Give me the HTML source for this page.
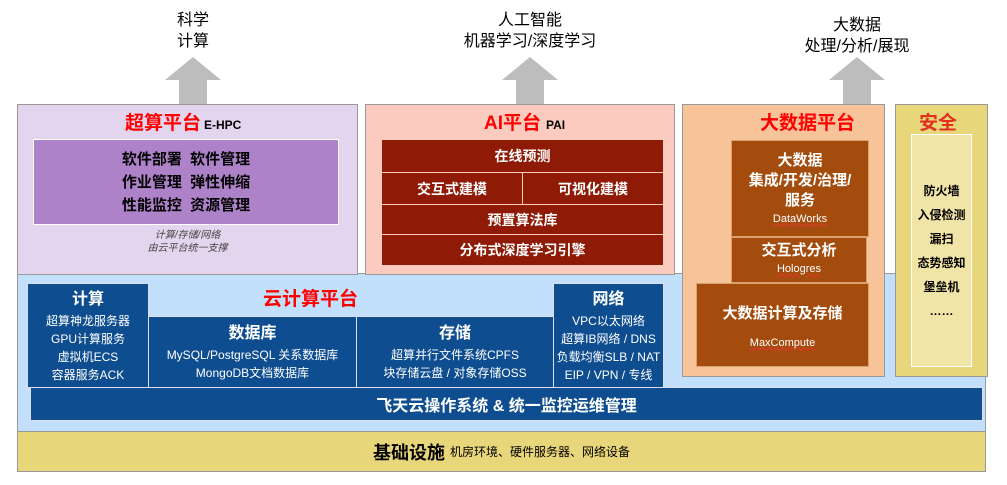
<!DOCTYPE html>
<html><head><meta charset="utf-8"><style>
*{margin:0;padding:0;box-sizing:border-box}
body{width:1007px;height:485px;background:#fff;position:relative;overflow:hidden;font-family:"Liberation Sans","Noto Sans CJK SC",sans-serif}
.a{position:absolute}
.c{display:flex;flex-direction:column;align-items:center;justify-content:center;text-align:center}
.w{color:#fff}
.red{color:#f00;font-weight:bold}
.u{text-decoration:underline wavy #e33;text-decoration-thickness:1px}
</style></head><body>
<!-- top labels -->
<div class="a c" style="left:143px;top:10px;width:100px;font-size:16px;line-height:21px">科学<br>计算</div>
<div class="a c" style="left:430px;top:10px;width:200px;font-size:16px;line-height:21px">人工智能<br>机器学习/深度学习</div>
<div class="a c" style="left:757px;top:15px;width:200px;font-size:16px;line-height:21px">大数据<br>处理/分析/展现</div>
<!-- arrows -->
<svg class="a" style="left:0;top:0" width="1007" height="110">
<g fill="#bdbdbd">
<polygon points="193,57 221,80 207,80 207,104 179,104 179,80 165,80"/>
<polygon points="530,57 558,80 544,80 544,104 516,104 516,80 502,80"/>
<polygon points="857,57 885,80 871,80 871,104 843,104 843,80 829,80"/>
</g></svg>
<!-- cloud bg -->
<div class="a" style="left:17px;top:273px;width:969px;height:160px;background:#c2e0fb;border:1px solid #999"></div>
<!-- base -->
<div class="a" style="left:17px;top:431px;width:969px;height:41px;background:#e8d67a;border:1px solid #999;display:flex;align-items:center;justify-content:center;font-size:18px;font-weight:bold">基础设施<span style="font-size:12px;font-weight:normal;margin-left:5px">机房环境、硬件服务器、网络设备</span></div>
<!-- HPC -->
<div class="a" style="left:17px;top:104px;width:341px;height:171px;background:#e3d5ee;border:1px solid #999"></div>
<div class="a red" style="left:125px;top:108px;font-size:19px">超算平台<span style="font-size:12px;color:#000;margin-left:3px">E-HPC</span></div>
<div class="a c" style="left:33px;top:139px;width:306px;height:86px;background:#ad82c8;border:1px solid #fff;font-size:15px;line-height:23px;font-weight:bold">软件部署&nbsp;&nbsp;软件管理<br>作业管理&nbsp;&nbsp;弹性伸缩<br>性能监控&nbsp;&nbsp;资源管理</div>
<div class="a c" style="left:100px;top:229px;width:175px;font-size:10px;line-height:13px;font-style:italic;color:#444">计算/存储/网络<br>由云平台统一支撑</div>
<!-- AI -->
<div class="a" style="left:365px;top:104px;width:310px;height:171px;background:#fbcbc0;border:1px solid #999"></div>
<div class="a red" style="left:484px;top:108px;font-size:19px">AI平台<span style="font-size:12px;color:#000;margin-left:5px">PAI</span></div>
<div class="a c w" style="left:382px;top:140px;width:281px;height:32px;background:#8f1a06;font-size:14px;font-weight:bold">在线预测</div>
<div class="a c w" style="left:382px;top:173px;width:140px;height:31px;background:#8f1a06;font-size:14px;font-weight:bold">交互式建模</div>
<div class="a c w" style="left:523px;top:173px;width:140px;height:31px;background:#8f1a06;font-size:14px;font-weight:bold">可视化建模</div>
<div class="a c w" style="left:382px;top:205px;width:281px;height:29px;background:#8f1a06;font-size:14px;font-weight:bold">预置算法库</div>
<div class="a c w" style="left:382px;top:235px;width:281px;height:30px;background:#8f1a06;font-size:14px;font-weight:bold">分布式深度学习引擎</div>
<!-- Big data -->
<div class="a" style="left:682px;top:104px;width:203px;height:273px;background:#f7c49a;border:1px solid #999"></div>
<div class="a red" style="left:760px;top:108px;font-size:19px">大数据平台</div>
<div class="a c w" style="left:731px;top:140px;width:138px;height:97px;background:#a44c0e;border:1px solid #d9a070;font-size:15px;line-height:20px;font-weight:bold">大数据<br>集成/开发/治理/<br>服务<span class="u" style="font-size:11px;font-weight:normal;line-height:16px">DataWorks</span></div>
<div class="a c w" style="left:731px;top:237px;width:136px;height:46px;background:#a44c0e;border:1px solid #d9a070;font-size:15px;line-height:19px;font-weight:bold">交互式分析<span class="u" style="font-size:11px;font-weight:normal">Hologres</span></div>
<div class="a c w" style="left:696px;top:283px;width:173px;height:84px;background:#a44c0e;border:1px solid #d9a070;font-size:15px;font-weight:bold">大数据计算及存储<span class="u" style="font-size:11px;font-weight:normal;margin-top:14px">MaxCompute</span></div>
<!-- Security -->
<div class="a" style="left:895px;top:104px;width:93px;height:273px;background:#e8d67a;border:1px solid #999"></div>
<div class="a" style="left:919px;top:108px;font-size:19px;color:#e0301e;font-weight:bold">安全</div>
<div class="a c" style="left:911px;top:134px;width:61px;height:233px;background:#f0e4a6;border:1px solid #fff;font-size:12px;line-height:24px;font-weight:bold">防火墙<br>入侵检测<br>漏扫<br>态势感知<br>堡垒机<br>……</div>
<!-- cloud -->
<div class="a red" style="left:263px;top:284px;font-size:19px">云计算平台</div>
<div class="a c w" style="left:27px;top:283px;width:122px;height:105px;background:#0e4d8f;border:1px solid #dde;font-size:12px;line-height:18px"><b style="font-size:16px;line-height:24px">计算</b>超算神龙服务器<br>GPU计算服务<br>虚拟机ECS<br>容器服务ACK</div>
<div class="a c w" style="left:148px;top:316px;width:209px;height:72px;background:#0e4d8f;border:1px solid #dde;font-size:12px;line-height:18px"><b style="font-size:16px;line-height:24px">数据库</b>MySQL/PostgreSQL 关系数据库<br>MongoDB文档数据库</div>
<div class="a c w" style="left:356px;top:316px;width:198px;height:72px;background:#0e4d8f;border:1px solid #dde;font-size:12px;line-height:18px"><b style="font-size:16px;line-height:24px">存储</b>超算并行文件系统CPFS<br>块存储云盘 / 对象存储OSS</div>
<div class="a c w" style="left:553px;top:283px;width:111px;height:105px;background:#0e4d8f;border:1px solid #dde;font-size:12px;line-height:18px"><b style="font-size:16px;line-height:24px">网络</b>VPC以太网络<br>超算IB网络 / DNS<br>负载均衡SLB / NAT<br>EIP / VPN / 专线</div>
<div class="a c w" style="left:30px;top:387px;width:953px;height:34px;background:#0e4d8f;border:1px solid #dde;font-size:16px;font-weight:bold">飞天云操作系统 &amp; 统一监控运维管理</div>
</body></html>
